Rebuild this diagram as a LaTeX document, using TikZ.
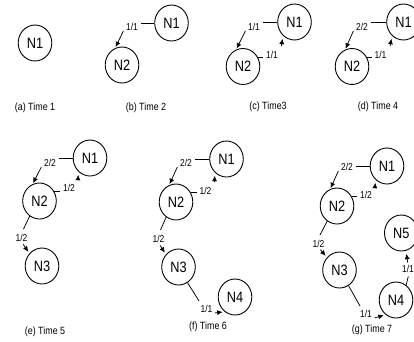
\documentclass[tikz,border=0pt]{standalone}
\usepackage{fontspec}
\usetikzlibrary{shapes.geometric,arrows.meta}
\newfontfamily\narrowsans[FakeStretch=0.85]{Liberation Sans}
\newcommand\ndfont{\narrowsans\fontsize{15pt}{15pt}\selectfont}
\newcommand\lbfont{\narrowsans\fontsize{10pt}{10pt}\selectfont}
\newcommand\cpfont{\narrowsans\fontsize{10.5pt}{10.5pt}\selectfont}

\begin{document}
\begin{tikzpicture}[x=1pt,y=-1pt,
  nd/.style={ellipse,draw,line width=0.9pt,minimum width=33.6pt,minimum height=36pt,inner sep=0pt,font=\ndfont},
  lb/.style={inner xsep=2.5pt,inner ysep=0pt,font=\lbfont},
  cp/.style={inner sep=0pt,font=\cpfont},
  ln/.style={line width=0.75pt},
  ar/.style={line width=0.75pt,-{Latex[length=5.5pt,width=5pt]}},
  back/.style={ar,shorten <=5pt,shorten >=3pt},
  down/.style={ar,shorten <=3pt,shorten >=2pt},
]
\fill[white] (0,0) rectangle (414,341);
\useasboundingbox (0,0) rectangle (414,341);

% ---- (a) Time 1
\node[nd] (a1) at (35,43) {N1};
\node[cp] (acap) at (35,108) {(a) Time 1};

% ---- (b) Time 2
\node[nd] (b1) at (171.5,23) {N1};
\node[nd] (b2) at (122,65) {N2};
\node[lb] (b12) at (132,27) {1/1};
\draw[ln] (b1.west) -- (b1.west -| b12.east);
\draw[ar,shorten >=1pt] (b12.south west) -- (b2.112);
\node[cp] (bcap) at (146,108) {(b) Time 2};

% ---- (c) Time3
\node[nd] (c1) at (294.5,22) {N1};
\node[nd] (c2) at (243,66.5) {N2};
\node[lb] (c12) at (254,27) {1/1};
\node[lb] (c21) at (272,55) {1/1};
\draw[ln] (c1.west) -- (c1.west -| c12.east);
\draw[ar,shorten >=1pt] (c12.south west) -- (c2.112);
\draw[ln] (c2.32) -- (c2.32 -| c21.west);
\draw[back] (c21.north east) -- (c1.230);
\node[cp] (ccap) at (268,107) {(c) Time3};

% ---- (d) Time 4
\node[nd] (d1) at (403.5,22) {N1};
\node[nd] (d2) at (352,66.5) {N2};
\node[lb] (d12) at (362,27) {2/2};
\node[lb] (d21) at (380.5,55) {1/1};
\draw[ln] (d1.west) -- (d1.west -| d12.east);
\draw[ar,shorten >=1pt] (d12.south west) -- (d2.112);
\draw[ln] (d2.32) -- (d2.32 -| d21.west);
\draw[back] (d21.north east) -- (d1.230);
\node[cp] (dcap) at (378,107) {(d) Time 4};

% ---- (e) Time 5
\node[nd] (e1) at (90,158) {N1};
\node[nd] (e2) at (39.5,201) {N2};
\node[nd] (e3) at (42,266) {N3};
\node[lb] (e12) at (50,163) {2/2};
\node[lb] (e21) at (69,188) {1/2};
\node[lb] (e23) at (21.5,238) {1/2};
\coordinate (e23in) at (23.5,229);
\draw[ln] (e1.west) -- (e1.west -| e12.east);
\draw[ar,shorten >=1pt] (e12.south west) -- (e2.112);
\draw[ln] (e2.32) -- (e2.32 -| e21.west);
\draw[back] (e21.north east) -- (e1.230);
\draw[ln] (e2.237) -- (e23in);
\draw[down] (e23.south) -- (e3.135);
\node[cp] (ecap) at (45,332) {(e) Time 5};

% ---- (f) Time 6
\node[nd] (f1) at (226.5,159) {N1};
\node[nd] (f2) at (176,202) {N2};
\node[nd] (f3) at (178.5,267) {N3};
\node[nd] (f4) at (235,297) {N4};
\node[lb] (f12) at (186,163) {2/2};
\node[lb] (f21) at (205.5,191) {1/2};
\node[lb] (f23) at (158.5,239) {1/2};
\node[lb] (f34) at (206.5,309) {1/1};
\coordinate (f23in) at (160.5,230);
\coordinate (f34in) at (199,301);
\draw[ln] (f1.west) -- (f1.west -| f12.east);
\draw[ar,shorten >=1pt] (f12.south west) -- (f2.112);
\draw[ln] (f2.32) -- (f2.32 -| f21.west);
\draw[back] (f21.north east) -- (f1.230);
\draw[ln] (f2.237) -- (f23in);
\draw[down] (f23.south) -- (f3.135);
\draw[ln] (f3.300) -- (f34in);
\draw[ar,shorten >=2pt] (f34.south east) -- (f4.235);
\node[cp] (fcap) at (208,327) {(f) Time 6};

% ---- (g) Time 7
\node[nd] (g1) at (387,166) {N1};
\node[nd] (g2) at (337,206) {N2};
\node[nd] (g3) at (339.5,270) {N3};
\node[nd] (g4) at (396,300) {N4};
\node[nd] (g5) at (401.3,233) {N5};
\node[lb] (g12) at (347,167) {2/2};
\node[lb] (g21) at (366,195) {1/2};
\node[lb] (g23) at (318.5,243.5) {1/2};
\node[lb] (g34) at (366,314) {1/1};
\node[lb] (g45) at (408,268.5) {1/1};
\coordinate (g23in) at (320,235);
\coordinate (g34in) at (360,306);
\coordinate (g45in) at (408.3,276.5);
\draw[ln] (g1.west) -- (g1.west -| g12.east);
\draw[ar,shorten >=1pt] (g12.south west) -- (g2.112);
\draw[ln] (g2.32) -- (g2.32 -| g21.west);
\draw[back] (g21.north east) -- (g1.230);
\draw[ln] (g2.237) -- (g23in);
\draw[down] (g23.south) -- (g3.135);
\draw[ln] (g3.300) -- (g34in);
\draw[ar,shorten >=2pt] (g34.south east) -- (g4.235);
\draw[ln] (g4.56) -- (g45in);
\draw[ar,shorten <=2pt,shorten >=3pt] (g45.north) -- (g5.285);
\node[cp] (gcap) at (372,330) {(g) Time 7};
\end{tikzpicture}
\end{document}
